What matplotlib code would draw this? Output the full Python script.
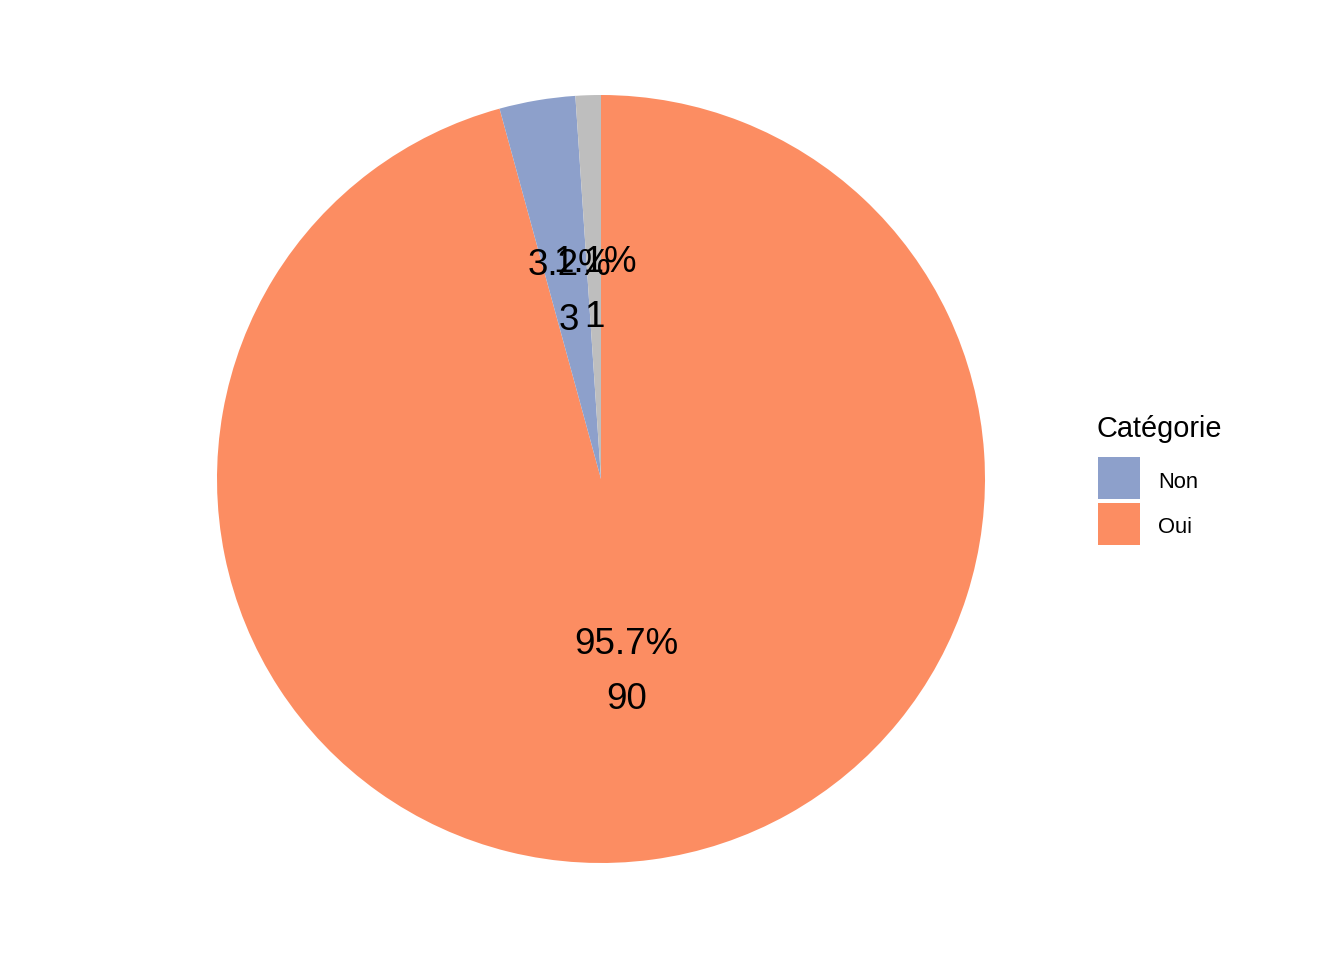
import matplotlib
matplotlib.use("Agg")
import matplotlib.pyplot as plt
from matplotlib.patches import Rectangle
import numpy as np

plt.rcParams['font.family'] = ['Liberation Sans', 'DejaVu Sans']

# Data
categories = ["Oui", "Non", "NA"]
counts = [90, 3, 1]
colors = ["#FC8D62", "#8DA0CB", "#BEBEBE"]
legend_categories = ["Non", "Oui"]
legend_colors = ["#8DA0CB", "#FC8D62"]
legend_title = "Catégorie"

W, H = 1344, 960
fig = plt.figure(figsize=(W / 100, H / 100), dpi=100)

cx, cy, R = 601, 479, 384
ax = fig.add_axes([(cx - R) / W, (H - cy - R) / H, 2 * R / W, 2 * R / H])
wedges, _ = ax.pie(counts, colors=colors, startangle=90, counterclock=False,
                   radius=1, wedgeprops=dict(linewidth=0))
ax.set_xlim(-1, 1)
ax.set_ylim(-1, 1)
ax.set_aspect('equal')
ax.axis('off')

total = sum(counts)
r_lab = 0.5
for w, n in zip(wedges, counts):
    ang = np.deg2rad((w.theta1 + w.theta2) / 2)
    x, y = r_lab * np.cos(ang), r_lab * np.sin(ang)
    pct = f"{100 * n / total:.1f}%"
    ax.annotate(pct, (x, y), xytext=(0, 10.8), textcoords='offset points',
                ha='center', va='baseline', fontsize=26.5, color='black')
    ax.annotate(str(n), (x, y), xytext=(0, -28.8), textcoords='offset points',
                ha='center', va='baseline', fontsize=26.5, color='black')

# Legend (manual)
def fx(px):
    return px / W

def fy(py):
    return 1 - py / H

fig.text(fx(1097), fy(437), legend_title, fontsize=20.8, ha='left', va='baseline')
key_tops = [457, 503]
label_baselines = [488, 533]
for lab, col, top, bl in zip(legend_categories, legend_colors, key_tops, label_baselines):
    fig.patches.append(Rectangle((fx(1098), fy(top + 42)), 42 / W, 42 / H,
                                 transform=fig.transFigure, facecolor=col,
                                 edgecolor='none'))
    fig.text(fx(1158), fy(bl), lab, fontsize=15.8, ha='left', va='baseline')

fig.savefig("out.png", dpi=100, facecolor='white')
